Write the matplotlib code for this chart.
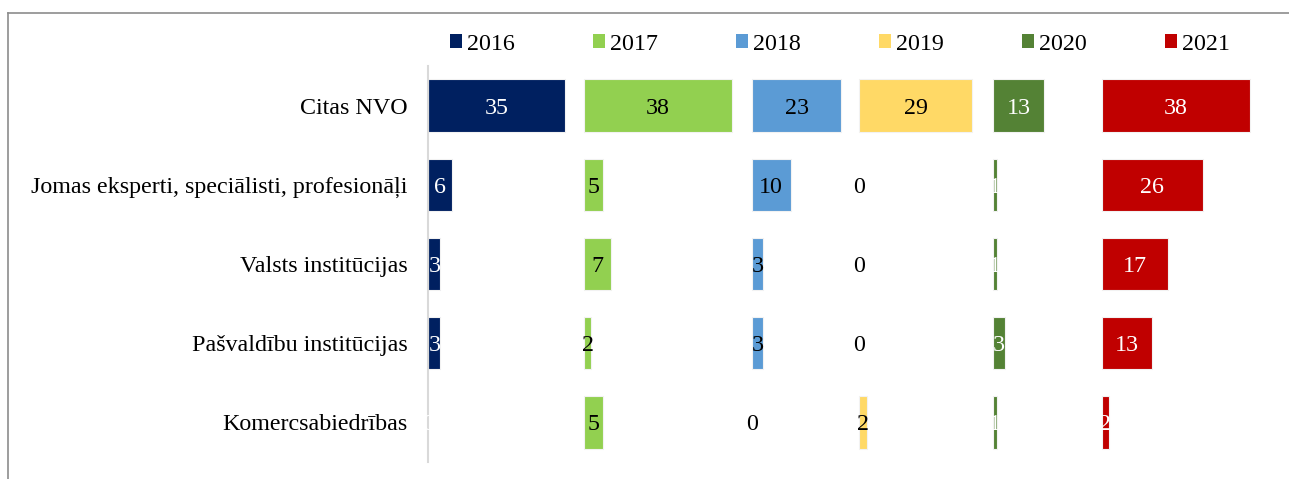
import matplotlib
matplotlib.use("Agg")
import matplotlib.pyplot as plt
from matplotlib.lines import Line2D
from matplotlib.patches import Patch

plt.rcParams['font.family'] = ['Liberation Serif', 'DejaVu Serif']

categories = ["Citas NVO",
              "Jomas eksperti, speciālisti, profesionāļi",
              "Valsts institūcijas",
              "Pašvaldību institūcijas",
              "Komercsabiedrības"]
years = ["2016", "2017", "2018", "2019", "2020", "2021"]
v2016 = [35, 6, 3, 3, 0]
v2017 = [38, 5, 7, 2, 5]
v2018 = [23, 10, 3, 3, 0]
v2019 = [29, 0, 0, 0, 2]
v2020 = [13, 1, 1, 3, 1]
v2021 = [38, 26, 17, 13, 2]
series = [v2016, v2017, v2018, v2019, v2020, v2021]

colors = ["#002060", "#92D050", "#5B9BD5", "#FFD966", "#548235", "#C00000"]
label_colors = ["white", "black", "black", "black", "white", "white"]
# panel starting positions along the shared value axis (layout)
offsets = [0, 39.8, 82.9, 110.5, 144.8, 172.6]

W, H = 1289, 479
fig = plt.figure(figsize=(W / 100, H / 100), dpi=100)
ax_l, ax_r = 428.4, 1262
ax_top, ax_bot = 66, 462
ax = fig.add_axes([ax_l / W, 1 - ax_bot / H, (ax_r - ax_l) / W, (ax_bot - ax_top) / H])
px_per_unit = 3.9
ax.set_xlim(0, (ax_r - ax_l) / px_per_unit)
ax.set_ylim(len(categories) - 0.5, -0.5)

ypos = list(range(len(categories)))
fs = 17.3
for vals, col, lc, off in zip(series, colors, label_colors, offsets):
    lws = [0.8 if v > 0 else 0 for v in vals]
    ax.barh(ypos, vals, left=off, height=0.66, color=col,
            edgecolor="#f2f2f2", linewidth=lws, zorder=2)
    for y, v in zip(ypos, vals):
        ax.text(off + v / 2, y, f"{v}", ha="center", va="center_baseline",
                color=lc, fontsize=fs, zorder=3)

ax.set_yticks(ypos)
ax.set_yticklabels(categories, fontsize=fs, va="center_baseline")
ax.tick_params(axis="y", length=0, pad=15)
ax.set_xticks([])
for s in ["top", "right", "bottom"]:
    ax.spines[s].set_visible(False)
ax.spines["left"].set_color("#d9d9d9")
ax.spines["left"].set_linewidth(1.5)

handles = [Patch(facecolor=c, edgecolor="none") for c in colors]
fig.legend(handles, years, loc="center", ncol=6, frameon=False,
           bbox_to_anchor=(840 / W, 1 - 44 / H), fontsize=fs,
           handlelength=0.48, handleheight=0.48, handletextpad=0.21,
           columnspacing=3.27, borderpad=0, borderaxespad=0)

# outer frame lines
fig.add_artist(Line2D([7.5 / W, 1.0], [1 - 12.5 / H, 1 - 12.5 / H],
                      transform=fig.transFigure, color="#8c8c8c", linewidth=1.2))
fig.add_artist(Line2D([8 / W, 8 / W], [0, 1 - 12.5 / H],
                      transform=fig.transFigure, color="#8c8c8c", linewidth=1.2))

fig.savefig("out.png", dpi=100)
